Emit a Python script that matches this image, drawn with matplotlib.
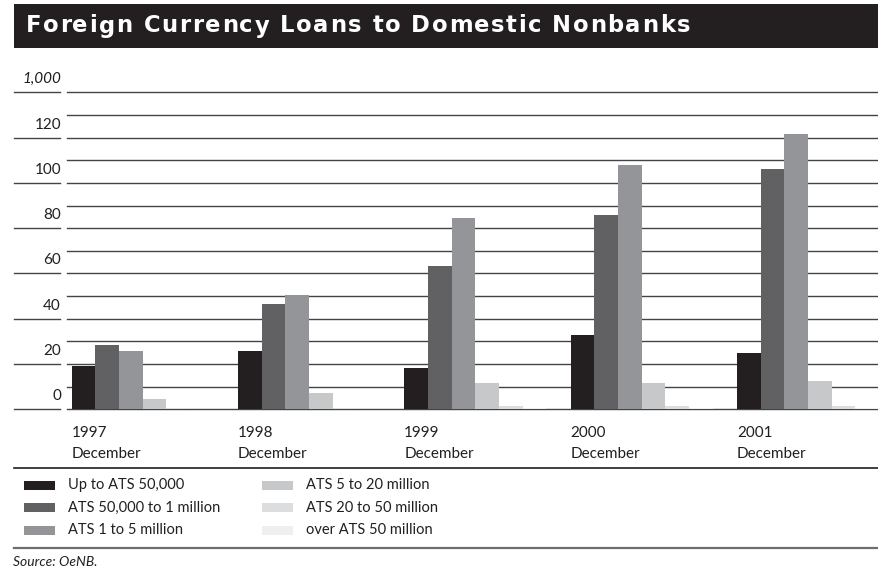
import matplotlib.pyplot as plt
from matplotlib.patches import Rectangle
from matplotlib.lines import Line2D
from matplotlib.font_manager import FontProperties

years = ["1997", "1998", "1999", "2000", "2001"]
series_names = [
    "Up to ATS 50,000",
    "ATS 50,000 to 1 million",
    "ATS 1 to 5 million",
    "ATS 5 to 20 million",
    "ATS 20 to 50 million",
    "over ATS 50 million",
]
up_to_50k = [19.1, 25.7, 18.2, 32.7, 24.8]
from_50k_to_1m = [28.3, 46.4, 63.1, 86.0, 106.3]
from_1m_to_5m = [25.7, 50.3, 84.3, 108.0, 121.7]
from_5m_to_20m = [4.5, 7.2, 11.6, 11.6, 12.5]
from_20m_to_50m = [0.7, 0.5, 1.5, 1.5, 1.5]
over_50m = [0.2, 0.2, 0.6, 0.6, 0.6]
y_ticks = [0, 20, 40, 60, 80, 100, 120, 140]
y_tick_labels = ["0", "20", "40", "60", "80", "100", "120", "1,000"]
title = "Foreign Currency Loans to Domestic Nonbanks"

series = [up_to_50k, from_50k_to_1m, from_1m_to_5m, from_5m_to_20m, from_20m_to_50m, over_50m]
colors = ["#231f20", "#616163", "#939598", "#c7c8ca", "#dcdddf", "#eeeff0"]

plt.rcParams["font.family"] = ["Lato", "DejaVu Sans"]
text_color = "#231f20"

W, H = 879, 578
fig = plt.figure(figsize=(W / 100, H / 100), dpi=100)


def fx(px):
    return px / W


def fy(py):
    return 1 - py / H


# title bar with letter-spaced heading
fig.add_artist(Rectangle((fx(14), fy(47.5)), fx(W - 14), fy(4) - fy(47.5),
                         transform=fig.transFigure, color="#231f20", lw=0))
renderer = fig.canvas.get_renderer()
tprop = FontProperties(family="DejaVu Sans", weight="bold", size=16.3)


def advance(ch):
    w2 = renderer.get_text_width_height_descent("l" + ch + "l", tprop, ismath=False)[0]
    w1 = renderer.get_text_width_height_descent("ll", tprop, ismath=False)[0]
    return w2 - w1


widths = [advance(ch) for ch in title]
x0, x1 = 25.5, 690
gap = (x1 - x0 - sum(widths)) / (len(title) - 1)
x = x0
for ch, w in zip(title, widths):
    fig.text(fx(x), fy(32.5), ch, color="white", fontproperties=tprop,
             va="baseline", ha="left")
    x += w + gap

ax_left, ax_right, ax_top, ax_bottom = 67, W, 92.3, 409.3
ax = fig.add_axes([fx(ax_left), fy(ax_bottom), fx(ax_right - ax_left), fy(ax_top) - fy(ax_bottom)])
ax.set_ylim(0, 140)
ax.set_xlim(-0.028, 4.855)
for s in ax.spines.values():
    s.set_visible(False)
ax.set_yticks([])

# horizontal grid every 10 units, long stubs under the labelled ones
for v in range(0, 150, 10):
    ax.axhline(v, color="#444444", lw=1.0, zorder=1, clip_on=False)
ytrans = ax.get_yaxis_transform()
stub_l = (14 - ax_left) / (ax_right - ax_left)
stub_r = (60 - ax_left) / (ax_right - ax_left)
lab_x = (61 - ax_left) / (ax_right - ax_left)
for v, lab in zip(y_ticks, y_tick_labels):
    ax.add_line(Line2D([stub_l, stub_r], [v, v], transform=ytrans, color="#444444",
                       lw=1.0, clip_on=False))
    ax.annotate(lab, (lab_x, v), xycoords=ytrans, xytext=(0, 6.5), textcoords="offset points",
                ha="right", va="baseline", fontsize=11, color=text_color,
                style="italic" if lab == "1,000" else "normal")

bar_w = 0.1425
for k, (vals, c, name) in enumerate(zip(series, colors, series_names)):
    xs = [i + k * bar_w for i in range(len(years))]
    ax.bar(xs, vals, width=bar_w, align="edge", color=c, lw=0, zorder=3, label=name)

ax.set_xticks(range(len(years)), labels=[f"{y}\nDecember" for y in years])
ax.tick_params(axis="x", length=0, pad=12, labelsize=11, labelcolor=text_color)
for t in ax.get_xticklabels():
    t.set_horizontalalignment("left")
    t.set_linespacing(1.6)

# rules around the legend
fig.add_artist(Line2D([fx(14), 1], [fy(468.3), fy(468.3)], transform=fig.transFigure,
                      color="#231f20", lw=1.2))
fig.add_artist(Line2D([fx(14), 1], [fy(547.7), fy(547.7)], transform=fig.transFigure,
                      color="#6d6e70", lw=1.6))

# legend in two columns
for k, (c, name) in enumerate(zip(colors, series_names)):
    col, row = divmod(k, 3)
    px = 24 + col * 238
    py = 485 + row * 22.5
    fig.add_artist(Rectangle((fx(px), fy(py + 4.5)), fx(31), fy(py - 4.5) - fy(py + 4.5),
                             transform=fig.transFigure, color=c, lw=0))
    fig.text(fx(px + 44), fy(py), name, fontsize=10.5, color=text_color, va="center", ha="left")

fig.text(fx(13), fy(562), "Source: OeNB.", fontsize=10, style="italic", color=text_color,
         va="center", ha="left")

fig.savefig("out.png", dpi=100)
